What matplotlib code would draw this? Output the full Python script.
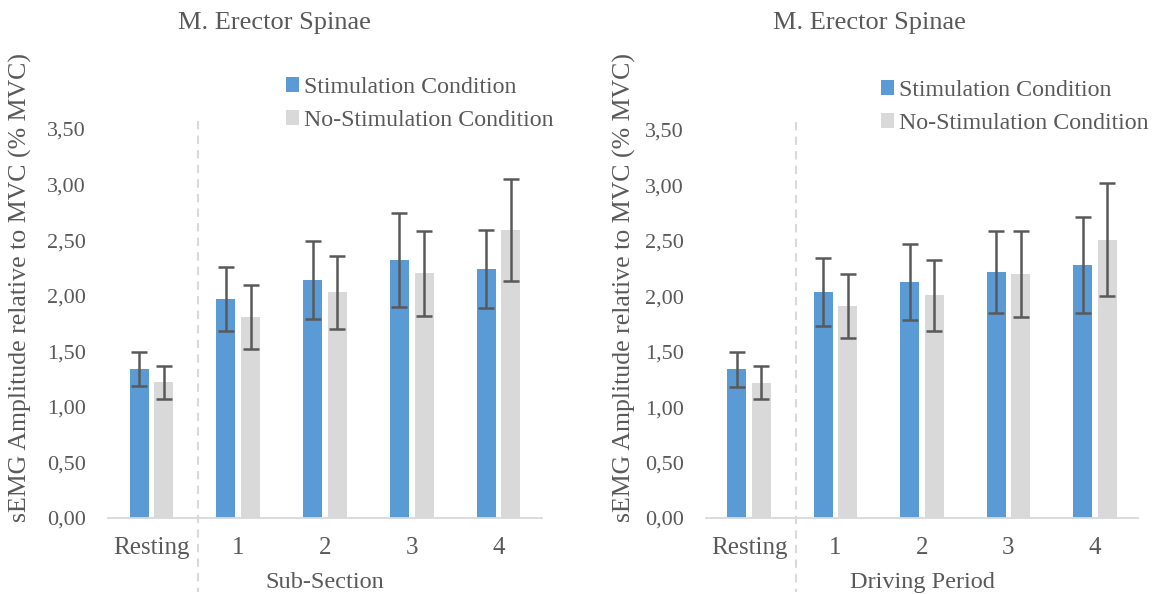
import matplotlib
matplotlib.use("Agg")
import matplotlib.pyplot as plt
import numpy as np
from matplotlib.transforms import blended_transform_factory

categories = ["Resting", "1", "2", "3", "4"]

left_stim = [1.34, 1.97, 2.14, 2.32, 2.24]
left_stim_err = [0.155, 0.29, 0.35, 0.425, 0.35]
left_nostim = [1.22, 1.81, 2.03, 2.20, 2.59]
left_nostim_err = [0.147, 0.285, 0.33, 0.386, 0.457]

right_stim = [1.34, 2.04, 2.13, 2.22, 2.28]
right_stim_err = [0.156, 0.305, 0.345, 0.372, 0.432]
right_nostim = [1.22, 1.91, 2.01, 2.20, 2.51]
right_nostim_err = [0.147, 0.287, 0.321, 0.39, 0.51]

yticks = [0, 0.5, 1.0, 1.5, 2.0, 2.5, 3.0, 3.5]
ytick_labels = ["0,00", "0,50", "1,00", "1,50", "2,00", "2,50", "3,00", "3,50"]

title = "M. Erector Spinae"
ylabel = "sEMG Amplitude relative to MVC (% MVC)"
xlabels = ["Sub-Section", "Driving Period"]
series_names = ["Stimulation Condition", "No-Stimulation Condition"]

BLUE = "#5B9BD5"
GRAY = "#D9D9D9"
TXT = "#595959"
FONT = "Liberation Serif"

plt.rcParams["font.family"] = [FONT, "DejaVu Serif"]

W, H = 1161, 594
fig = plt.figure(figsize=(W / 100, H / 100), dpi=100)

def px_axes(x0, x1, y_top, y_bot):
    return fig.add_axes([x0 / W, 1 - y_bot / H, (x1 - x0) / W, (y_bot - y_top) / H])

panels = [
    dict(rect=(108, 542, 129, 518), stim=left_stim, se=left_stim_err, nostim=left_nostim,
         ne=left_nostim_err, xlabel=xlabels[0], title_x=274, ylabel_x=20,
         legend_xy=(286, 77)),
    dict(rect=(706, 1138, 130, 518), stim=right_stim, se=right_stim_err, nostim=right_nostim,
         ne=right_nostim_err, xlabel=xlabels[1], title_x=869, ylabel_x=624,
         legend_xy=(881, 80)),
]

x = np.arange(len(categories))
bw = 0.22
off = 0.142

for p in panels:
    ax = px_axes(*p["rect"])
    ax.bar(x - off, p["stim"], bw, color=BLUE, label=series_names[0], zorder=2)
    ax.bar(x + off, p["nostim"], bw, color=GRAY, label=series_names[1], zorder=2)
    ax.errorbar(x - off, p["stim"], yerr=p["se"], fmt="none", ecolor=TXT,
                elinewidth=1.8, capsize=6, capthick=1.8, zorder=3)
    ax.errorbar(x + off, p["nostim"], yerr=p["ne"], fmt="none", ecolor=TXT,
                elinewidth=1.8, capsize=6, capthick=1.8, zorder=3)
    ax.set_xlim(-0.5, len(categories) - 0.5)
    ax.set_ylim(0, 3.5)
    ax.set_yticks(yticks)
    ax.set_yticklabels(ytick_labels)
    ax.set_xticks(x)
    ax.set_xticklabels(categories)
    ax.tick_params(axis="y", length=0, labelsize=16, colors=TXT, pad=16)
    ax.tick_params(axis="x", length=0, labelsize=18, colors=TXT, pad=14)
    for s in ["top", "right", "left"]:
        ax.spines[s].set_visible(False)
    ax.spines["bottom"].set_color("#D9D9D9")
    ax.spines["bottom"].set_linewidth(1.3)
    ax.set_xlabel(p["xlabel"], fontsize=17.5, color=TXT, labelpad=9)
    ax.patch.set_alpha(0)
    # dashed separator between Resting and driving categories
    tr = blended_transform_factory(ax.transData, ax.transAxes)
    ax.plot([0.54, 0.54], [1.02, -0.19], transform=tr, color="#D9D9D9",
            lw=1.5, ls=(0, (4, 3)), clip_on=False, zorder=1)
    fig.text(p["title_x"] / W, 1 - 23 / H, title, ha="center", va="center",
             fontsize=19, color=TXT)
    fig.text(p["ylabel_x"] / W, 1 - 288 / H, ylabel, ha="center", va="center",
             rotation=90, fontsize=18.6, color=TXT)
    lx, ly = p["legend_xy"]
    fig.legend(handles=ax.patches[:1] + ax.patches[len(categories):len(categories) + 1],
               labels=series_names, loc="upper left",
               bbox_to_anchor=(lx / W, 1 - ly / H), frameon=False,
               fontsize=17.2, labelcolor=TXT, handlelength=0.55, handleheight=0.55,
               handletextpad=0.2, labelspacing=0.5, borderaxespad=0, borderpad=0)

fig.savefig("out.png", dpi=100)
